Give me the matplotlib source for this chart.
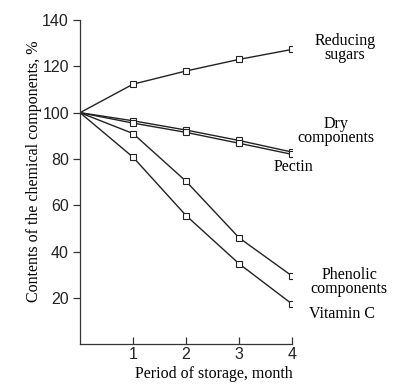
import numpy as np
import matplotlib
matplotlib.use('Agg')
import matplotlib.pyplot as plt

months = [0, 1, 2, 3, 4]
reducing_sugars = [100, 112.3, 118, 123, 127.3]
dry_components = [100, 96.5, 92.5, 88, 83]
pectin = [100, 95.5, 91.5, 86.8, 82]
phenolic = [100, 91, 70.4, 46, 29.5]
vitamin_c = [100, 80.8, 55.6, 34.8, 17.4]

series = [
    (reducing_sugars, 'Reducing\nsugars', (5.0, 128.0)),
    (dry_components, 'Dry\ncomponents', (4.83, 92.0)),
    (pectin, 'Pectin', (4.02, 76.5)),
    (phenolic, 'Phenolic\ncomponents', (5.08, 27.0)),
    (vitamin_c, 'Vitamin C', (4.95, 13.0)),
]

fig = plt.figure(figsize=(3.93, 3.91), dpi=100)
ax = fig.add_axes([0.2036, 0.1194, 0.5395, 0.8294])

for vals, label, pos in series:
    ax.plot(months[1:], vals[1:], marker='s', markersize=5, markerfacecolor='white',
            markeredgecolor='#222222', markeredgewidth=0.8, linestyle='none', zorder=3)
    ax.plot(months, vals, color='#222222', linewidth=1.0, zorder=2)
    ax.text(pos[0], pos[1], label, ha='center', va='center', family='Liberation Serif',
            fontsize=11.5, linespacing=0.8, clip_on=False)

ax.set_xlim(0, 4)
ax.set_ylim(0, 140)
ax.set_xticks([1, 2, 3, 4])
ax.set_yticks([20, 40, 60, 80, 100, 120, 140])
ax.spines['top'].set_visible(False)
ax.spines['right'].set_visible(False)
for s in ['left', 'bottom']:
    ax.spines[s].set_linewidth(0.9)
    ax.spines[s].set_color('#333333')
ax.tick_params(axis='y', direction='out', length=5, width=0.9, colors='#333333', labelsize=11.5, pad=3)
ax.tick_params(axis='x', direction='in', length=5, width=0.9, colors='#333333', labelsize=11.5, pad=2)
for lab in ax.get_xticklabels() + ax.get_yticklabels():
    lab.set_family('Liberation Sans')
    lab.set_color('#222222')

ax.set_xlabel('Period of storage, month', family='Liberation Serif', fontsize=11.5)
ax.set_ylabel('Contents of the chemical components, %', family='Liberation Serif', fontsize=11.5)
ax.xaxis.set_label_coords(0.632, -0.068)
ax.yaxis.set_label_coords(-0.178, 0.534)

plt.savefig('out.png', dpi=100)
